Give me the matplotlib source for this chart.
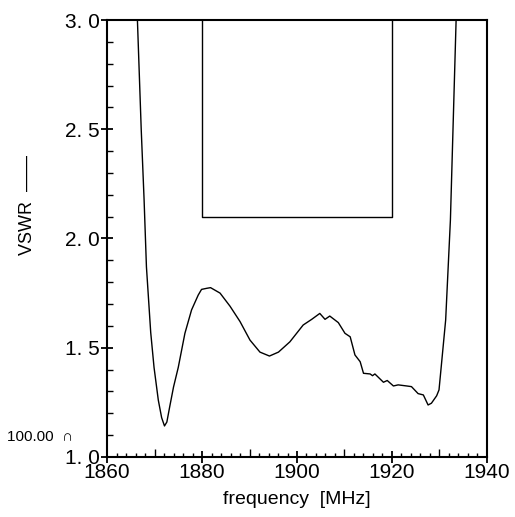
import numpy as np
import matplotlib
matplotlib.use("Agg")
import matplotlib.pyplot as plt
from matplotlib.ticker import MultipleLocator, FuncFormatter

plt.rcParams['font.family'] = ['Liberation Sans', 'DejaVu Sans']

# VSWR curve
freq = [1866.4, 1867.2, 1867.8, 1868.3, 1869.2, 1869.9, 1870.8, 1871.5, 1872.1,
        1872.6, 1873.2, 1874.0, 1875.0, 1876.4, 1877.8, 1879.2, 1879.9, 1881.0,
        1881.8, 1883.8, 1885.9, 1888.0, 1890.1, 1892.2,
        1894.2, 1896.1, 1898.5, 1901.3, 1903.1, 1904.8, 1905.9, 1906.9, 1908.7,
        1910.1, 1911.2, 1912.2, 1913.3, 1914.0, 1915.4, 1915.9, 1916.4, 1918.2,
        1919.0, 1920.3, 1921.3, 1923.1, 1924.1, 1925.5, 1926.6, 1927.6, 1928.3,
        1929.4, 1929.9, 1930.3, 1931.3, 1932.3, 1932.9, 1933.5]
vswr = [3.0, 2.5, 2.18, 1.87, 1.57, 1.41, 1.26, 1.18, 1.142,
        1.16, 1.23, 1.32, 1.41, 1.566, 1.673, 1.741, 1.767, 1.772,
        1.775, 1.75, 1.69, 1.62, 1.535, 1.48,
        1.462, 1.48, 1.527, 1.604, 1.63, 1.657, 1.63, 1.645, 1.615,
        1.566, 1.55, 1.467, 1.436, 1.383, 1.38, 1.372, 1.38, 1.342,
        1.35, 1.325, 1.33, 1.325, 1.322, 1.29, 1.284, 1.238, 1.246,
        1.28, 1.307, 1.398, 1.627, 2.085, 2.542, 3.0]

# specification mask
mask_f = [1880, 1880, 1920, 1920]
mask_v = [3.0, 2.1, 2.1, 3.0]

fig = plt.figure(figsize=(5.15, 5.17), dpi=100)
ax = fig.add_axes([0.2078, 0.1161, 0.7378, 0.8452])

ax.plot(freq, vswr, color='black', lw=1.0)
ax.plot(mask_f, mask_v, color='black', lw=1.0)

ax.set_xlim(1860, 1940)
ax.set_ylim(1.0, 3.0)

for s in ax.spines.values():
    s.set_linewidth(1.5)

ax.xaxis.set_major_locator(MultipleLocator(20))
ax.xaxis.set_minor_locator(MultipleLocator(2))
ax.yaxis.set_major_locator(MultipleLocator(0.5))
ax.yaxis.set_minor_locator(MultipleLocator(0.1))
ax.yaxis.set_major_formatter(FuncFormatter(lambda v, p: f"{v:.1f}".replace('.', '. ')))

ax.tick_params(which='major', direction='inout', length=8, width=1.3, labelsize=15, pad=1)
ax.tick_params(axis='x', which='major', pad=0)
ax.tick_params(which='minor', direction='in', length=4, width=1.0)
ax.tick_params(axis='x', which='minor', length=3)

ax.set_xlabel('frequency  [MHz]', fontsize=14, labelpad=7)

fig.text(28 / 515, 1 - 205 / 517, 'VSWR  \u2014\u2014', rotation=90, fontsize=13,
         ha='center', va='center')
fig.text(7 / 515, 1 - 437 / 517, '100.00  \u2229', fontsize=11, ha='left', va='center')

# longer inward ticks every 10 MHz
fig.canvas.draw()
locs = ax.xaxis.get_minorticklocs()
ticks = ax.xaxis.get_minor_ticks(len(locs))
for loc, t in zip(locs, ticks):
    if abs(loc % 10) < 1e-6 or abs(loc % 10 - 10) < 1e-6:
        t.tick1line.set_markersize(6)

fig.savefig('out.png', dpi=100)
